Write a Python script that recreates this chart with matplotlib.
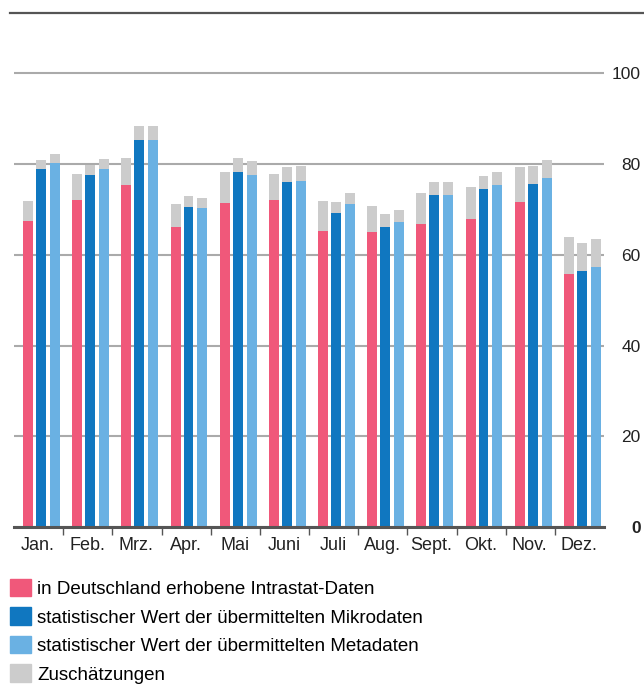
import matplotlib
matplotlib.use("Agg")
import matplotlib.pyplot as plt
from matplotlib.patches import Patch
from matplotlib.lines import Line2D
import numpy as np

plt.rcParams['font.family'] = ['Liberation Sans Narrow', 'Liberation Sans', 'DejaVu Sans']

months = ["Jan.", "Feb.", "Mrz.", "Apr.", "Mai", "Juni", "Juli", "Aug.", "Sept.", "Okt.", "Nov.", "Dez."]
intrastat = [67.5, 72.1, 75.4, 66.2, 71.4, 72.1, 65.3, 65.0, 66.8, 67.9, 71.6, 55.8]
mikro = [78.9, 77.6, 85.3, 70.6, 78.3, 76.1, 69.2, 66.2, 73.1, 74.5, 75.7, 56.4]
meta = [80.3, 78.9, 85.3, 70.3, 77.6, 76.3, 71.3, 67.3, 73.1, 75.4, 77.0, 57.3]
# Zuschätzungen on top of each series
zu_intrastat = [4.4, 5.7, 6.0, 5.1, 6.9, 5.7, 6.6, 5.8, 6.8, 7.1, 7.8, 8.1]
zu_mikro = [2.0, 2.2, 3.1, 2.3, 3.1, 3.3, 2.4, 2.8, 3.0, 2.9, 3.9, 6.2]
zu_meta = [1.9, 2.2, 3.1, 2.2, 3.1, 3.3, 2.3, 2.6, 3.0, 2.9, 3.9, 6.2]

labels = ["in Deutschland erhobene Intrastat-Daten",
          "statistischer Wert der übermittelten Mikrodaten",
          "statistischer Wert der übermittelten Metadaten",
          "Zuschätzungen"]
yticks = [0, 20, 40, 60, 80, 100]

c_pink = '#f0587a'
c_dark = '#1077c0'
c_light = '#6ab1e3'
c_gray = '#cccccc'

W, H = 644, 690
fig = plt.figure(figsize=(W / 100, H / 100), dpi=100)
ax = fig.add_axes([14 / W, 1 - 527 / H, 590 / W, 514 / H])

x = np.arange(len(months))
bw = 0.203
offsets = [0.285, 0.549, 0.833]
for off, base, zu, col in zip(offsets, [intrastat, mikro, meta],
                              [zu_intrastat, zu_mikro, zu_meta],
                              [c_pink, c_dark, c_light]):
    ax.bar(x + off, base, width=bw, color=col, zorder=3)
    ax.bar(x + off, zu, width=bw, bottom=base, color=c_gray, zorder=3)

ax.set_xlim(0, 12)
ax.set_ylim(0, 113.3)

for s in ['top', 'left', 'right']:
    ax.spines[s].set_visible(False)
ax.spines['bottom'].set_color('#555555')
ax.spines['bottom'].set_linewidth(2.2)
ax.spines['bottom'].set_zorder(4)

# tick marks at month borders, labels in the middle
ax.set_xticks(np.arange(1, 12))
ax.set_xticklabels([])
ax.tick_params(axis='x', which='major', length=6, width=1, color='#555555', direction='out')
ax.set_xticks(x + 0.49, minor=True)
ax.set_xticklabels(months, minor=True, fontsize=13, color='#222222')
ax.tick_params(axis='x', which='minor', length=0, pad=7)

ax.yaxis.tick_right()
ax.set_yticks(yticks)
ax.set_yticklabels([str(v) for v in yticks], fontsize=12.5, color='#222222')
ax.tick_params(axis='y', length=0, pad=26.5)
for lbl in ax.get_yticklabels():
    lbl.set_horizontalalignment('right')
ax.get_yticklabels()[0].set_fontweight('bold')

ax.grid(axis='y', color='#aaaaaa', linewidth=1.5, zorder=0)
ax.set_axisbelow(True)

# top rule across the figure
fig.add_artist(Line2D([10 / W, 1.0], [1 - 13 / H, 1 - 13 / H], color='#555555', linewidth=1.6))

handles = [Patch(color=c) for c in [c_pink, c_dark, c_light, c_gray]]
fig.legend(handles, labels, loc='upper left', bbox_to_anchor=(10 / W, 1 - 579 / H),
           frameon=False, fontsize=13.5, handlelength=1.1, handleheight=1.05,
           handletextpad=0.35, labelspacing=0.5, borderpad=0, borderaxespad=0)

fig.savefig('out.png', dpi=100)
